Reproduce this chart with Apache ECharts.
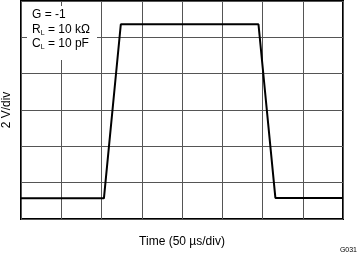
<!DOCTYPE html>
<html>
<head>
<meta charset="utf-8">
<script src="https://cdn.jsdelivr.net/npm/echarts@6/dist/echarts.min.js"></script>
<style>html,body{margin:0;padding:0;background:#fff}#c{width:358px;height:254px}</style>
</head>
<body>
<div id="c"></div>
<script>
// Time in µs (50 µs/div), output in V (2 V/div)
var timeUs = [0, 103, 124, 295, 316, 400];
var outputV = [1.14, 1.14, 10.72, 10.72, 1.16, 1.16];
var xTitle = 'Time (50 µs/div)';
var yTitle = '2 V/div';
var noteLines = ['G = -1', 'R_L = 10 kΩ', 'C_L = 10 pF'];

var chart = echarts.init(document.getElementById('c'), null, {renderer: 'canvas'});
var font = 'Liberation Sans, Arial, sans-serif';
var data = timeUs.map(function (t, i) { return [t, outputV[i]]; });

chart.setOption({
  animation: false,
  backgroundColor: '#fff',
  grid: {left: 21, right: 15, top: 1, bottom: 35, show: true, borderColor: '#000', borderWidth: 2,
         backgroundColor: 'transparent', containLabel: false, outerBoundsMode: 'none'},
  xAxis: {
    type: 'value', min: 0, max: 400, interval: 50,
    axisLine: {show: false}, axisTick: {show: false}, axisLabel: {show: false},
    splitLine: {show: true, lineStyle: {color: '#555', width: 1}},
    name: xTitle, nameLocation: 'middle', nameGap: 17,
    nameTextStyle: {fontFamily: font, fontSize: 12, color: '#000'}
  },
  yAxis: {
    type: 'value', min: 0, max: 12, interval: 2,
    axisLine: {show: false}, axisTick: {show: false}, axisLabel: {show: false},
    splitLine: {show: true, lineStyle: {color: '#555', width: 1}},
    name: yTitle, nameLocation: 'middle', nameGap: 8,
    nameTextStyle: {fontFamily: font, fontSize: 12, color: '#000'}
  },
  graphic: [
    {type: 'rect', left: 27, top: 6, z: 3, shape: {width: 70, height: 54}, style: {fill: '#fff'}},
    {type: 'text', left: 32, top: 9, z: 4, style: {text: noteLines[0], fontFamily: font, fontSize: 12, fill: '#000'}},
    {type: 'text', left: 32, top: 24, z: 4, style: {text: '{m|R}{s|L}{m| = 10 kΩ}', fontFamily: font, fill: '#000',
      rich: {m: {fontFamily: font, fontSize: 12, fill: '#000'}, s: {fontFamily: font, fontSize: 7, fill: '#000', padding: [7, 0, 0, 0]}}}},
    {type: 'text', left: 32, top: 38, z: 4, style: {text: '{m|C}{s|L}{m| = 10 pF}', fontFamily: font, fill: '#000',
      rich: {m: {fontFamily: font, fontSize: 12, fill: '#000'}, s: {fontFamily: font, fontSize: 7, fill: '#000', padding: [7, 0, 0, 0]}}}},
    {type: 'text', right: 1, bottom: 0, style: {text: 'G031', fontFamily: font, fontSize: 7, fill: '#000'}}
  ],
  series: [{
    type: 'line', data: data, symbol: 'none', z: 5,
    lineStyle: {color: '#000', width: 2}
  }]
});
</script>
</body>
</html>
